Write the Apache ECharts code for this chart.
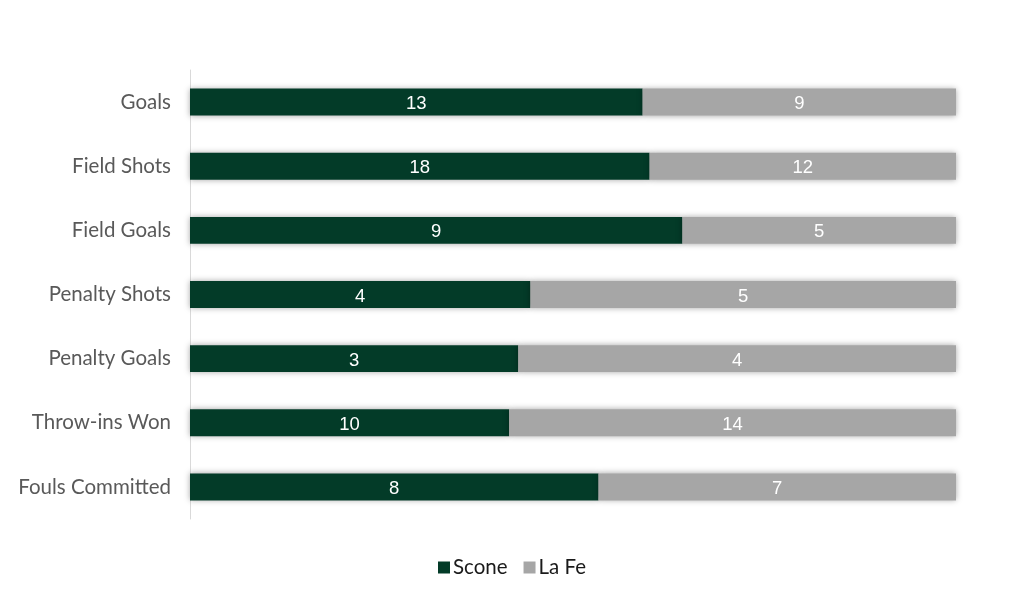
<!DOCTYPE html>
<html>
<head>
<meta charset="utf-8">
<script src="https://cdn.jsdelivr.net/npm/echarts@6/dist/echarts.min.js"></script>
<style>html,body{margin:0;padding:0;background:#fff;}#c{width:1024px;height:606px;}</style>
</head>
<body>
<div id="c"></div>
<script>
const categories = ["Goals", "Field Shots", "Field Goals", "Penalty Shots", "Penalty Goals", "Throw-ins Won", "Fouls Committed"];
const sconeValues = [13, 18, 9, 4, 3, 10, 8];
const laFeValues = [9, 12, 5, 5, 4, 14, 7];
const seriesNames = ["Scone", "La Fe"];

const cats = categories.slice().reverse();
const sc = sconeValues.slice().reverse();
const lf = laFeValues.slice().reverse();
const share = (a, b) => a.map((v, i) => ({ value: v / (v + b[i]), raw: v }));

const chart = echarts.init(document.getElementById('c'));
const labelStyle = {
  show: true, position: 'inside', color: '#fff', fontSize: 18.5,
  fontFamily: 'Liberation Sans, Arial, sans-serif',
  offset: [0, 2],
  formatter: p => p.data.raw
};
const shadow = { shadowBlur: 6, shadowColor: 'rgba(0,0,0,0.35)', shadowOffsetY: 0 };
chart.setOption({
  animation: false,
  grid: { left: 190, right: 68, top: 70, bottom: 87 },
  xAxis: { type: 'value', min: 0, max: 1, show: false },
  yAxis: {
    type: 'category', data: cats,
    axisLine: { show: true, lineStyle: { color: '#D9D9D9', width: 1 } },
    axisTick: { show: false },
    axisLabel: { color: '#595959', fontSize: 20.5, fontFamily: 'Lato, sans-serif', margin: 19 }
  },
  legend: {
    bottom: 23, left: 'center', itemWidth: 12, itemHeight: 12, itemGap: 16,
    icon: 'rect',
    textStyle: { color: '#1a1a1a', fontSize: 20.5, fontFamily: 'Lato, sans-serif', padding: [0, 0, 0, -2] },
    data: seriesNames
  },
  series: [
    { name: seriesNames[0], type: 'bar', stack: 't', barWidth: '42%', data: share(sc, lf),
      itemStyle: Object.assign({ color: '#033B28' }, shadow), label: labelStyle },
    { name: seriesNames[1], type: 'bar', stack: 't', barWidth: '42%', data: share(lf, sc),
      itemStyle: Object.assign({ color: '#A6A6A6' }, shadow), label: labelStyle }
  ]
});
</script>
</body>
</html>
